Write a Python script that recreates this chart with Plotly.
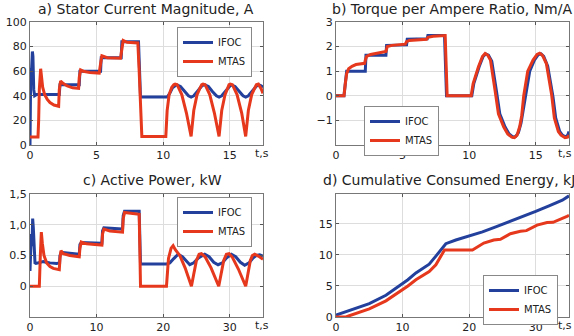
import plotly.graph_objects as go

# ---------------- data ----------------
# a) Stator current magnitude, A  (t in s)
a_ifoc_t = [0, 0.05, 0.12, 0.18, 0.22, 0.28, 0.35, 0.5, 2.2, 2.25, 3.7, 3.75, 5.3, 5.35, 6.85, 6.9, 8.15, 8.3,
            10.3, 10.5, 10.7, 11.0, 11.3, 11.6, 11.9, 12.1, 12.3, 12.6, 12.9, 13.1, 13.4, 13.7, 14.0, 14.2,
            14.4, 14.7, 15.0, 15.1, 15.4, 15.7, 16.0, 16.2, 16.4, 16.7, 17.0, 17.1, 17.3, 17.5]
a_ifoc_v = [0, 55, 62, 76, 72, 45, 40, 41, 41, 49, 49, 60, 60, 71, 71, 84, 84, 39,
            39, 42, 46.5, 49, 47.5, 43.5, 40, 39, 40, 44, 48, 49, 47.5, 43.5, 40, 39,
            40, 44, 48, 49, 47.5, 43.5, 40, 39, 40, 44, 48, 49, 48.5, 47]
a_mtas_t = [0, 0.6, 0.65, 0.7, 0.8, 0.85, 0.95, 1.1, 1.3, 1.5, 1.8, 2.15, 2.2, 2.3, 2.5, 2.8, 3.2, 3.65,
            3.7, 3.8, 4.0, 4.5, 5.2, 5.3, 5.4, 5.8, 6.8, 6.9, 7.0, 7.3, 8.1, 8.2, 8.3, 8.4, 10.2,
            10.3, 10.45, 10.65, 10.8, 10.9, 11.05, 11.4, 11.75, 12.1,
            12.3, 12.55, 12.8, 12.9, 13.0, 13.15, 13.5, 13.85, 14.2,
            14.4, 14.65, 14.9, 14.95, 15.05, 15.2, 15.55, 15.9, 16.2,
            16.4, 16.65, 16.9, 17.0, 17.15, 17.35, 17.5]
a_mtas_v = [6.5, 6.5, 20, 45, 62, 55, 47, 41, 37, 34.5, 32.5, 31.5, 45, 52, 50, 48, 46.5, 46,
            55, 61, 60, 59, 58.5, 66, 72.5, 71, 70.5, 78, 85, 83.5, 83, 60, 30, 7, 7,
            28, 41, 47, 49, 49.5, 49, 41, 26, 7,
            28, 41, 47, 49, 49.5, 49, 41, 26, 7,
            28, 41, 47, 49, 49.5, 49, 41, 26, 7,
            28, 41, 47, 49, 49.5, 46, 42]

# b) Torque per ampere ratio, Nm/A
b_ifoc_t = [0, 0.6, 0.7, 0.8, 2.2, 2.25, 3.75, 3.8, 5.3, 5.35, 6.85, 6.9, 8.15, 8.2, 8.3, 10.2,
            10.35, 10.75, 11.05, 11.25, 11.45, 11.7, 11.9, 12.05, 12.3, 12.7, 13.0, 13.3, 13.5, 13.7,
            13.9, 14.05, 14.2, 14.35, 14.55, 14.9, 15.2, 15.4, 15.6, 15.9, 16.1, 16.3, 16.5, 16.8,
            17.0, 17.25, 17.4, 17.5]
b_ifoc_v = [0, 0, 0.5, 1.0, 1.0, 1.65, 1.65, 2.05, 2.07, 2.3, 2.32, 2.45, 2.45, 1.3, 0, 0,
            0.5, 1.18, 1.6, 1.7, 1.65, 1.4, 0.8, 0.2, -0.73, -1.27, -1.55, -1.68, -1.65, -1.5,
            -1.1, -0.6, 0.0, 0.5, 1.0, 1.45, 1.68, 1.7, 1.6, 1.2, 0.6, -0.05, -0.9, -1.45,
            -1.6, -1.68, -1.6, -1.45]
b_mtas_t = [0, 0.6, 0.7, 0.8, 0.95, 1.2, 1.5, 1.8, 2.15, 2.2, 2.3, 2.6, 3.0, 3.6, 3.75, 3.85, 4.2,
            5.2, 5.3, 5.5, 6.8, 6.9, 7.3, 8.2, 8.3, 8.35, 10.15,
            10.3, 10.7, 11.0, 11.2, 11.4, 11.6, 11.8, 11.95, 12.2, 12.6, 12.9, 13.2, 13.4, 13.6,
            13.8, 13.95, 14.1, 14.2, 14.4, 14.8, 15.1, 15.3, 15.5, 15.8, 16.0, 16.2, 16.4, 16.7,
            16.9, 17.2, 17.4, 17.5]
b_mtas_v = [0, 0, 0.5, 0.9, 1.1, 1.2, 1.27, 1.3, 1.32, 1.45, 1.6, 1.68, 1.72, 1.76, 1.8, 2.0, 2.05,
            2.1, 2.2, 2.25, 2.3, 2.38, 2.42, 2.45, 1.0, 0, 0,
            0.5, 1.18, 1.6, 1.72, 1.65, 1.45, 0.8, 0.2, -0.73, -1.27, -1.55, -1.68, -1.7, -1.6,
            -1.25, -0.8, 0.0, 0.4, 1.0, 1.45, 1.68, 1.73, 1.65, 1.31, 0.7, 0.03, -0.9, -1.45,
            -1.6, -1.7, -1.68, -1.6]

# c) Active power, kW
c_ifoc_t = [0, 0.1, 0.2, 0.3, 0.4, 0.5, 0.6, 0.75, 0.9, 2.0, 3.0, 4.0, 4.45, 4.5, 4.7, 7.4, 7.5, 7.7,
            10.8, 10.9, 11.1, 13.9, 14.0, 14.2, 16.4, 16.5, 16.6, 20.5,
            21.0, 21.6, 22.25, 22.9, 23.5, 24.0, 24.6, 25.3, 26.25, 26.9, 27.6, 28.25, 28.9, 29.5,
            30.25, 30.9, 31.6, 32.25, 32.9, 33.5, 34.0, 34.5, 35.0]
c_ifoc_v = [0.25, 0.6, 0.85, 0.65, 1.1, 0.95, 0.6, 0.38, 0.37, 0.4, 0.38, 0.37, 0.38, 0.5, 0.55, 0.52, 0.68, 0.71,
            0.7, 0.9, 0.95, 0.93, 1.15, 1.22, 1.22, 0.8, 0.36, 0.36,
            0.38, 0.45, 0.52, 0.48, 0.4, 0.35, 0.38, 0.46, 0.52, 0.48, 0.39, 0.35, 0.38, 0.46,
            0.52, 0.48, 0.39, 0.34, 0.38, 0.46, 0.5, 0.51, 0.49]
c_mtas_t = [0, 1.4, 1.55, 1.7, 1.85, 2.1, 2.5, 3.0, 3.5, 4.4, 4.5, 4.65, 5.0, 6.0, 7.4, 7.5, 7.7, 8.5,
            10.8, 10.9, 11.1, 12.0, 13.9, 14.0, 14.2, 16.4, 16.5, 16.6, 20.5,
            20.8, 21.2, 21.5, 21.8, 22.5, 23.3, 24.25, 24.6, 25.0, 25.4, 25.75, 26.3, 27.2, 28.35,
            28.7, 29.1, 29.5, 29.9, 30.4, 31.3, 32.4, 32.75, 33.1, 33.4, 33.75, 34.3, 35.0]
c_mtas_v = [0, 0, 0.5, 0.88, 0.7, 0.5, 0.38, 0.32, 0.29, 0.27, 0.45, 0.58, 0.53, 0.5, 0.48, 0.62, 0.72, 0.69,
            0.67, 0.85, 0.93, 0.9, 0.88, 1.1, 1.2, 1.17, 0.6, 0.0, 0.0,
            0.45, 0.62, 0.66, 0.6, 0.5, 0.3, 0.0, 0.2, 0.42, 0.52, 0.53, 0.48, 0.3, 0.0,
            0.22, 0.42, 0.52, 0.53, 0.47, 0.28, 0.0, 0.22, 0.42, 0.5, 0.52, 0.49, 0.44]

# d) Cumulative consumed energy, kJ
d_ifoc_t = [0, 2, 4.5, 5, 7.5, 10, 10.8, 12, 14, 15, 16.5, 18, 20, 22, 24, 26, 28, 30, 32, 34, 35]
d_ifoc_v = [0.3, 1.0, 1.9, 2.15, 3.5, 5.4, 6.0, 7.1, 8.5, 9.8, 11.8, 12.4, 13.0, 13.7, 14.5, 15.3, 16.2, 17.0, 17.9, 18.8, 19.5]
d_mtas_t = [0, 1.5, 2, 3, 4.5, 5, 7.5, 10, 10.8, 12, 14, 15, 16.3, 20.5, 22.2, 23.7, 24.7, 26.2, 27.7,
            28.6, 30.2, 31.7, 32.6, 34.7, 35]
d_mtas_v = [0, 0, 0.2, 0.6, 1.1, 1.3, 2.6, 4.4, 5.0, 6.0, 7.3, 8.4, 10.8, 10.8, 11.9, 12.4, 12.5, 13.4, 13.8,
            13.9, 14.8, 15.2, 15.25, 16.2, 16.35]

titles = ["a) Stator Current Magnitude, A", "b) Torque per Ampere Ratio, Nm/A",
          "c) Active Power, kW", "d) Cumulative Consumed Energy, kJ"]
series_names = ["IFOC", "MTAS"]
x_unit_label = "t,s"

# ---------------- figure ----------------
BLUE = "#23409c"
RED = "#e6381c"
FONT = "DejaVu Sans, Liberation Sans, Arial, sans-serif"
W, H = 574, 336

fig = go.Figure()

panels = [
    (a_ifoc_t, a_ifoc_v, a_mtas_t, a_mtas_v, "x", "y", "legend"),
    (b_ifoc_t, b_ifoc_v, b_mtas_t, b_mtas_v, "x2", "y2", "legend2"),
    (c_ifoc_t, c_ifoc_v, c_mtas_t, c_mtas_v, "x3", "y3", "legend3"),
    (d_ifoc_t, d_ifoc_v, d_mtas_t, d_mtas_v, "x4", "y4", "legend4"),
]
for ti, vi, tm, vm, xa, ya, lg in panels:
    fig.add_trace(go.Scatter(x=ti, y=vi, mode="lines", name=series_names[0], xaxis=xa, yaxis=ya,
                             legend=lg, line=dict(color=BLUE, width=3)))
    fig.add_trace(go.Scatter(x=tm, y=vm, mode="lines", name=series_names[1], xaxis=xa, yaxis=ya,
                             legend=lg, line=dict(color=RED, width=3)))


def px_x(p):
    return p / W


def px_y(p):
    return 1 - p / H


dom_left = [px_x(30), px_x(263)]
dom_right = [px_x(336), px_x(569)]
dom_top = [px_y(145), px_y(22)]
dom_bot = [px_y(317), px_y(194)]

axis_common = dict(showline=True, mirror="ticks", linecolor="#777", linewidth=1,
                   ticks="inside", ticklen=3, tickcolor="#555", showgrid=True,
                   gridcolor="#dddddd", gridwidth=1, zeroline=False, automargin=False,
                   tickfont=dict(family=FONT, size=11, color="#222"), fixedrange=True)

fig.update_layout(
    xaxis=dict(domain=dom_left, anchor="y", range=[0, 17.5], tickmode="array",
               tickvals=[0, 5, 10, 15], **axis_common),
    yaxis=dict(domain=dom_top, anchor="x", range=[0, 100], tickmode="array",
               tickvals=[0, 20, 40, 60, 80, 100], **axis_common),
    xaxis2=dict(domain=dom_right, anchor="y2", range=[0, 17.5], tickmode="array",
                tickvals=[0, 5, 10, 15], **axis_common),
    yaxis2=dict(domain=dom_top, anchor="x2", range=[-2, 3], tickmode="array",
                tickvals=[-1, 0, 1, 2, 3], **axis_common),
    xaxis3=dict(domain=dom_left, anchor="y3", range=[0, 35], tickmode="array",
                tickvals=[0, 10, 20, 30], **axis_common),
    yaxis3=dict(domain=dom_bot, anchor="x3", range=[-0.5, 1.5], tickmode="array",
                tickvals=[0, 0.5, 1.0, 1.5], ticktext=["0", "0.5", "1,0", "1,5"], **axis_common),
    xaxis4=dict(domain=dom_right, anchor="y4", range=[0, 35], tickmode="array",
                tickvals=[0, 10, 20, 30], **axis_common),
    yaxis4=dict(domain=dom_bot, anchor="x4", range=[0, 19.8], tickmode="array",
                tickvals=[0, 5, 10, 15], **axis_common),
)

legend_common = dict(bgcolor="white", bordercolor="#888", borderwidth=1,
                     font=dict(family=FONT, size=10, color="#222"), xanchor="left", yanchor="top",
                     itemwidth=30, tracegroupgap=0)
fig.update_layout(
    legend=dict(x=px_x(177), y=px_y(27), **legend_common),
    legend2=dict(x=px_x(364), y=px_y(106), **legend_common),
    legend3=dict(x=px_x(177), y=px_y(197), **legend_common),
    legend4=dict(x=px_x(483), y=px_y(275), **legend_common),
)

title_pos = [(146, 9), (452, 9), (153, 180), (449, 180)]
for txt, (xp, yp) in zip(titles, title_pos):
    fig.add_annotation(text=txt, x=px_x(xp), y=px_y(yp), xref="paper", yref="paper",
                       xanchor="center", yanchor="middle", showarrow=False,
                       font=dict(family=FONT, size=14, color="#222"))

# "t,s" unit label at the right end of each time axis
unit_pos = [(262, 154), (565, 154), (262, 325), (565, 325)]
for xp, yp in unit_pos:
    fig.add_annotation(text=x_unit_label, x=px_x(xp), y=px_y(yp), xref="paper", yref="paper",
                       xanchor="center", yanchor="middle", showarrow=False,
                       font=dict(family=FONT, size=11, color="#222"))

fig.update_layout(width=W, height=H, margin=dict(l=0, r=0, t=0, b=0),
                  paper_bgcolor="white", plot_bgcolor="white", showlegend=True)

fig.write_html("out.html", config={"displayModeBar": False},
               post_script="document.body.style.margin='0';document.body.style.overflow='hidden';")
